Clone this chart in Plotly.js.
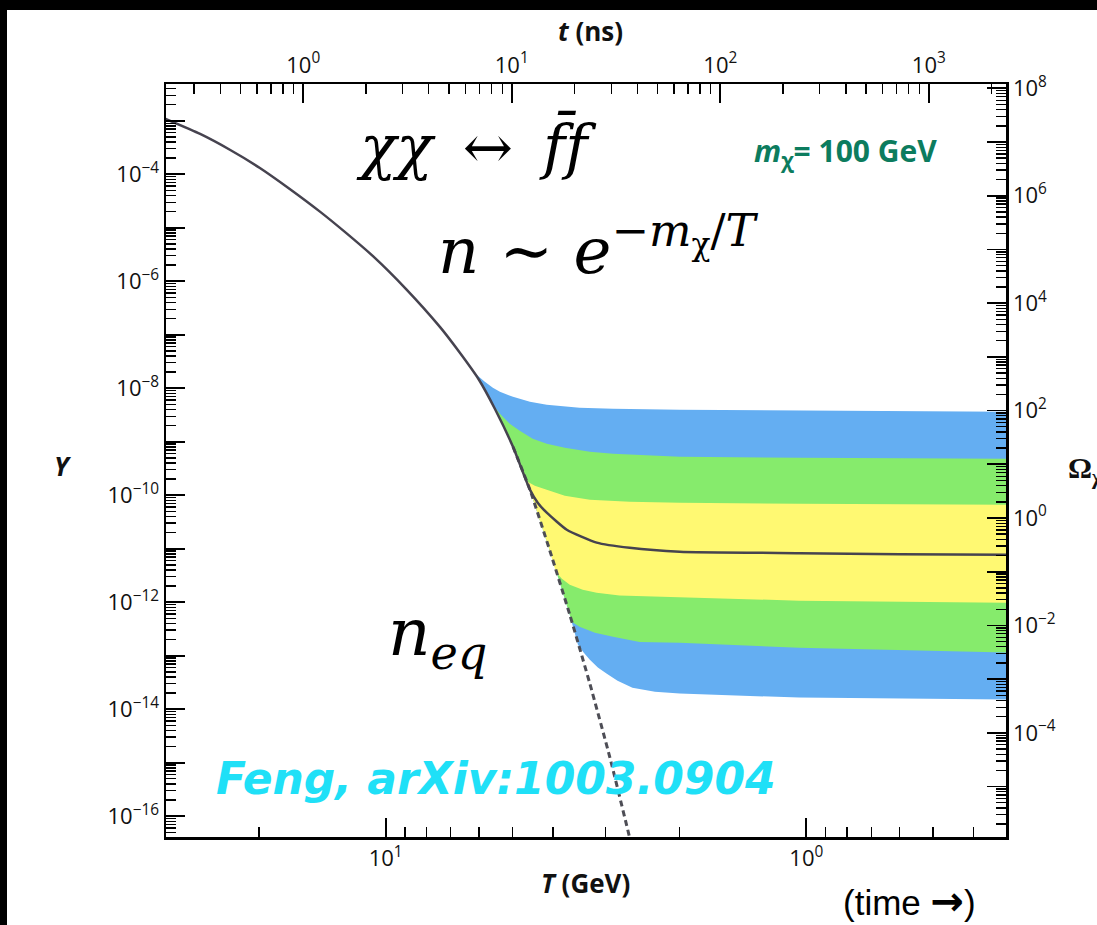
<!DOCTYPE html>
<html>
<head>
<meta charset="utf-8">
<script src="https://cdn.plot.ly/plotly-3.0.1.min.js"></script>
<style>
  html, body { margin: 0; padding: 0; background: #000; width: 1097px; height: 925px; overflow: hidden; }
  #chart { position: absolute; left: 7px; top: 10px; width: 1090px; height: 915px; }
</style>
</head>
<body>
<div id="chart"></div>
<script>
// ---------- data ----------
// Freeze-out curve Y(T), T in GeV
const T_solid = [34, 27.6, 23.4, 19.9, 16.9, 14.3, 12.5, 10.7, 8.95, 7.43, 6.66, 6.00, 5.50, 4.98, 4.54, 4.35, 4.14, 3.71, 3.15, 2.63, 2.00, 1.04, 0.60, 0.329];
const Y_solid = [1.15e-3, 5.66e-4, 2.84e-4, 1.31e-4, 5.31e-5, 1.98e-5, 8.36e-6, 2.91e-6, 7.20e-7, 1.40e-7, 4.59e-8, 1.44e-8, 4.13e-9, 8.04e-10, 1.27e-10, 7.24e-11, 4.71e-11, 2.26e-11, 1.30e-11, 1.04e-11, 8.79e-12, 8.25e-12, 7.90e-12, 7.73e-12];
// Equilibrium curve n_eq (dashed)
const T_neq = [4.98, 4.54, 4.07, 3.65, 3.27, 2.93, 2.63, 2.56];
const Y_neq = [8.04e-10, 1.27e-10, 9.18e-12, 5.85e-13, 3.01e-14, 1.25e-15, 3.99e-17, 1.69e-17];
// Band boundaries (upper and lower edges of the blue, green, yellow bands)
const T_blueTop = [6.31, 6.04, 5.81, 5.56, 5.35, 4.98, 4.54, 4.14, 3.46, 2.88, 2.00, 1.04, 0.329];
const Y_blueTop = [2.51e-8, 1.71e-8, 1.32e-8, 1.02e-8, 8.57e-9, 6.91e-9, 5.57e-9, 4.90e-9, 4.31e-9, 4.13e-9, 3.95e-9, 3.79e-9, 3.63e-9];
const T_greenTop = [5.56, 5.35, 5.07, 4.80, 4.47, 4.14, 3.75, 3.27, 2.88, 2.00, 1.04, 0.329];
const Y_greenTop = [4.90e-9, 3.33e-9, 2.16e-9, 1.60e-9, 1.14e-9, 9.15e-10, 7.71e-10, 6.49e-10, 5.95e-10, 5.23e-10, 5.01e-10, 4.80e-10];
const T_yellowTop = [4.64, 4.42, 4.14, 3.75, 3.27, 2.63, 2.00, 1.04, 0.329];
const Y_yellowTop = [1.87e-10, 1.50e-10, 1.27e-10, 9.77e-11, 8.23e-11, 7.55e-11, 7.24e-11, 6.93e-11, 6.64e-11];
const T_yellowBot = [3.94, 3.81, 3.65, 3.40, 3.15, 2.78, 2.39, 2.00, 1.04, 0.329];
const Y_yellowBot = [3.72e-12, 2.75e-12, 2.13e-12, 1.71e-12, 1.51e-12, 1.33e-12, 1.27e-12, 1.22e-12, 1.07e-12, 9.80e-13];
const T_greenBot = [3.61, 3.46, 3.18, 2.88, 2.49, 2.00, 1.04, 0.329];
const Y_greenBot = [4.33e-13, 3.49e-13, 2.70e-13, 2.27e-13, 1.80e-13, 1.75e-13, 1.41e-13, 1.14e-13];
const T_blueBot = [3.49, 3.38, 3.27, 3.13, 2.98, 2.81, 2.59, 2.29, 2.00, 1.04, 0.329];
const Y_blueBot = [1.61e-13, 1.14e-13, 8.44e-14, 5.99e-14, 4.62e-14, 3.42e-14, 2.53e-14, 2.13e-14, 1.96e-14, 1.65e-14, 1.51e-14];

// Tick labels
const bottomTickVals = [10, 1];
const bottomTickText = ['10<sup>1</sup>', '10<sup>0</sup>'];
const bottomMinorVals = [20, 9, 8, 7, 6, 5, 4, 3, 2, 0.9, 0.8, 0.7, 0.6, 0.5, 0.4];
const topTickVals = [1, 10, 100, 1000];
const topTickText = ['10<sup>0</sup>', '10<sup>1</sup>', '10<sup>2</sup>', '10<sup>3</sup>'];
const leftExps = [-16, -15, -14, -13, -12, -11, -10, -9, -8, -7, -6, -5, -4, -3];
const rightExps = [-5, -4, -3, -2, -1, 0, 1, 2, 3, 4, 5, 6, 7, 8];

// ---------- helpers ----------
function decadeTicks(exps) {
  return {
    vals: exps.map(e => Math.pow(10, e)),
    text: exps.map(e => (e % 2 === 0) ? '10<sup>' + (e < 0 ? '\u2212' + (-e) : e) + '</sup>' : '')
  };
}
function minorTicks(e0, e1) {
  const v = [];
  for (let e = e0; e <= e1; e++) for (let k = 2; k <= 9; k++) v.push(k * Math.pow(10, e));
  return v;
}
// equilibrium path (used to close the band polygons along the curve)
const eqPath = [];
T_neq.forEach((t, i) => eqPath.push([t, Y_neq[i]]));
T_solid.forEach((t, i) => { if (t > T_neq[0]) eqPath.push([t, Y_solid[i]]); });
eqPath.sort((a, b) => a[0] - b[0]);

function band(Tu, Yu, Tl, Yl, color, name) {
  const mid = eqPath.filter(p => p[0] > Tl[0] && p[0] < Tu[0]);
  const x = Tu.concat(Tl.slice().reverse(), mid.map(p => p[0]));
  const y = Yu.concat(Yl.slice().reverse(), mid.map(p => p[1]));
  return { x: x, y: y, type: 'scatter', mode: 'lines', fill: 'toself', fillcolor: color,
           line: { width: 0, color: color }, hoverinfo: 'skip', showlegend: false, name: name };
}

const lt = decadeTicks(leftExps);
const rt = decadeTicks(rightExps);

const traces = [
  band(T_blueTop, Y_blueTop, T_blueBot, Y_blueBot, '#64AEF2', 'blue'),
  band(T_greenTop, Y_greenTop, T_greenBot, Y_greenBot, '#86EB6C', 'green'),
  band(T_yellowTop, Y_yellowTop, T_yellowBot, Y_yellowBot, '#FFF972', 'yellow'),
  { x: T_neq, y: Y_neq, type: 'scatter', mode: 'lines', line: { color: '#4d4d55', width: 3, dash: '6px,4px', shape: 'spline', smoothing: 0.5 }, showlegend: false },
  { x: T_solid, y: Y_solid, type: 'scatter', mode: 'lines', line: { color: '#46434f', width: 2.5, shape: 'spline', smoothing: 0.5 }, showlegend: false },
  { x: [], y: [], xaxis: 'x2', yaxis: 'y2', type: 'scatter', mode: 'lines', showlegend: false }
];

// ---------- geometry for annotations (page px -> paper) ----------
const L = 166, R = 1006.5, TOP = 84, BOT = 837.5;
const px = x => (x - L) / (R - L);
const py = y => (BOT - y) / (BOT - TOP);

const tickFont = { family: 'Open Sans, sans-serif', size: 22, color: '#111' };
const axisCommon = {
  type: 'log', showgrid: false, zeroline: false, showline: true, linecolor: '#000', linewidth: 2.5,
  ticks: 'inside', ticklen: 19, tickwidth: 1.8, tickcolor: '#000', tickmode: 'array', tickfont: tickFont
};
function minorCfg(vals) {
  return { tickmode: 'array', tickvals: vals, ticks: 'inside', ticklen: 10, tickwidth: 1.4, tickcolor: '#000', showgrid: false };
}
const mathFont = { family: 'DejaVu Serif, serif', color: '#000' };

const layout = {
  width: 1090, height: 915,
  margin: { l: 159, r: 90.5, t: 74, b: 87.5, pad: 0 },
  paper_bgcolor: '#fff', plot_bgcolor: '#fff',
  showlegend: false,
  xaxis: Object.assign({}, axisCommon, {
    range: [1.522, -0.4746], tickvals: bottomTickVals, ticktext: bottomTickText,
    minor: minorCfg(bottomMinorVals), anchor: 'y'
  }),
  yaxis: Object.assign({}, axisCommon, {
    range: [-16.389, -2.313], tickvals: lt.vals, ticktext: lt.text,
    minor: minorCfg(minorTicks(-17, -3)), anchor: 'x'
  }),
  xaxis2: Object.assign({}, axisCommon, {
    overlaying: 'x', side: 'top', anchor: 'y',
    range: [-0.658, 3.37], tickvals: topTickVals, ticktext: topTickText,
    minor: minorCfg(minorTicks(-1, 3))
  }),
  yaxis2: Object.assign({}, axisCommon, {
    overlaying: 'y', side: 'right', anchor: 'x',
    range: [-5.939, 8.08], tickvals: rt.vals, ticktext: rt.text,
    minor: minorCfg(minorTicks(-6, 8))
  }),
  annotations: [
    { text: '<b><i>t</i> (ns)</b>', x: px(591), y: py(31), xref: 'paper', yref: 'paper', xanchor: 'center', yanchor: 'middle', showarrow: false,
      font: { family: 'Open Sans, sans-serif', size: 26, color: '#111' } },
    { text: '<b><i>T</i> (GeV)</b>', x: px(586), y: py(884), xref: 'paper', yref: 'paper', xanchor: 'center', yanchor: 'middle', showarrow: false,
      font: { family: 'Open Sans, sans-serif', size: 26, color: '#111' } },
    { text: '<b><i>Y</i></b>', x: px(63), y: py(466), xref: 'paper', yref: 'paper', xanchor: 'center', yanchor: 'middle', showarrow: false,
      font: { family: 'Open Sans, sans-serif', size: 26, color: '#111' } },
    { text: '<b>\u03A9<sub>\u03C7</sub></b>', x: px(1067), y: py(470), xref: 'paper', yref: 'paper', xanchor: 'left', yanchor: 'middle', showarrow: false,
      font: { family: 'Liberation Serif, serif', size: 30, color: '#111' } },
    { text: '(time <span style="font-family:DejaVu Sans;font-weight:bold;font-size:40px">\u2192</span>)', x: px(910), y: py(902), xref: 'paper', yref: 'paper', xanchor: 'center', yanchor: 'middle', showarrow: false,
      font: { family: 'Liberation Sans, Arial, sans-serif', size: 35, color: '#000' } },
    { text: '<b><i>Feng, arXiv:1003.0904</i></b>', x: px(214), y: py(779), xref: 'paper', yref: 'paper', xanchor: 'left', yanchor: 'middle', showarrow: false,
      font: { family: 'DejaVu Sans, sans-serif', size: 44, color: '#1FE0F7' } },
    { text: '<i>\u03C7\u03C7</i>\u2002\u2194\u2002<i>f\u0304f</i>', x: px(354), y: py(146), xref: 'paper', yref: 'paper', xanchor: 'left', yanchor: 'middle', showarrow: false,
      font: Object.assign({ size: 60 }, mathFont) },
    { text: '<i>n</i> \u223C <i>e</i><sup>\u2212<i>m</i><sub>\u03C7</sub>/<i>T</i></sup>', x: px(436), y: py(246), xref: 'paper', yref: 'paper', xanchor: 'left', yanchor: 'middle', showarrow: false,
      font: Object.assign({ size: 64 }, mathFont) },
    { text: '<i>n</i><sub><i>eq</i></sub>', x: px(386), y: py(637), xref: 'paper', yref: 'paper', xanchor: 'left', yanchor: 'middle', showarrow: false,
      font: Object.assign({ size: 66 }, mathFont) },
    { text: '<b><i>m</i><sub>\u03C7</sub>= 100 GeV</b>', x: px(752), y: py(152), xref: 'paper', yref: 'paper', xanchor: 'left', yanchor: 'middle', showarrow: false,
      font: { family: 'Open Sans, sans-serif', size: 30, color: '#0C7C5E' } }
  ]
};

Plotly.newPlot('chart', traces, layout, { displayModeBar: false, staticPlot: true });
</script>
</body>
</html>
